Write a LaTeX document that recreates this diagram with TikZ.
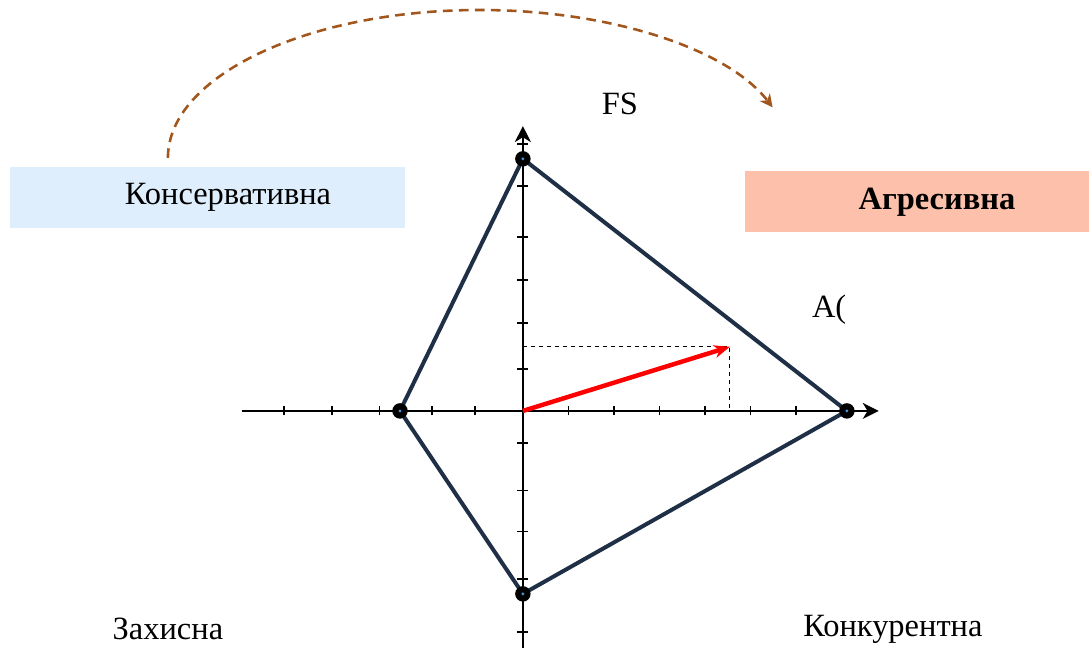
\documentclass[tikz,border=0pt]{standalone}
\usepackage{fontspec}
\setmainfont{Liberation Serif}
\usetikzlibrary{arrows.meta}

\definecolor{quadblue}{HTML}{1F2F45}
\definecolor{dotblue}{HTML}{4A90D9}
\definecolor{consblue}{HTML}{DFEEFC}
\definecolor{aggrsalmon}{HTML}{FDC0AA}
\definecolor{arcbrown}{HTML}{A0561C}

\tikzset{
  axis/.style={line width=1.3pt,-{Stealth[length=10pt,width=10pt,inset=3pt]}},
  tickmark/.style={line width=1.1pt},
  quad/.style={quadblue,line width=2.5pt,line join=round},
  vec/.style={red,line width=2.8pt,-{Stealth[length=10pt,width=8pt]}},
  guide/.style={line width=0.6pt,dash pattern=on 2.5pt off 2.5pt},
  arcline/.style={arcbrown,line width=1.6pt,dash pattern=on 6pt off 4pt,-{Stealth[length=8pt,width=8pt,inset=2.5pt]}},
  dot/.style={circle,fill=black,minimum size=0.34cm,inner sep=0pt,
    path picture={\fill[dotblue] (path picture bounding box.center) circle (0.035);}},
  lbl/.style={font=\fontsize{20.3}{24}\selectfont,inner sep=1pt},
}

\begin{document}
\begin{tikzpicture}

\useasboundingbox (-11.49,-5.21) rectangle (12.44,9.03);

% boxes
\node[fill=consblue,minimum width=8.68cm,minimum height=1.34cm,inner sep=0pt] (kons) at (-6.93,4.69) {};
\node[lbl] (konstext) at (-6.48,4.70) {Консервативна};
\node[fill=aggrsalmon,minimum width=7.56cm,minimum height=1.34cm,inner sep=0pt] (aggr) at (8.66,4.60) {};
\node[lbl] (aggrtext) at (9.10,4.59) {\textbf{Агресивна}};

% arc
\coordinate (arcstart) at (-7.8,5.56);
\draw[arcline] (arcstart) arc[start angle=180,end angle=20,x radius=6.85,y radius=3.25];

% axes
\coordinate (O) at (0,0);
\draw[axis] (-6.18,0) -- (7.82,0);
\draw[axis] (0,-5.21) -- (0,6.26);
\foreach \x in {-5.25,-4.2,-3.15,-2,-1.05,1,2,3,4,5,6}
  \draw[tickmark] (\x,-0.1) -- (\x,0.1);
\foreach \y in {-4.85,-3.7,-2.65,-1.75,-0.7,0.92,1.93,2.88,3.82,4.95,5.87}
  \draw[tickmark] (-0.12,\y) -- (0.12,\y);

% quadrilateral
\coordinate (top) at (0,5.54);
\coordinate (right) at (7.12,0);
\coordinate (bottom) at (0,-4.02);
\coordinate (left) at (-2.70,0);
\draw[quad] (top) -- (right) -- (bottom) -- (left) -- cycle;

% vector
\coordinate (A) at (4.55,1.41);
\draw[guide] (O |- A) -- (A) -- (A |- O);
\draw[vec] (O) -- (A);

\foreach \p in {top,right,bottom,left}
  \node[dot] (d-\p) at (\p) {};

% labels
\node[lbl] (fs) at (2.13,6.75) {FS};
\node[lbl] (alabel) at (6.73,2.22) {A(};
\node[lbl] (zakh) at (-7.80,-4.80) {Захисна};
\node[lbl] (konk) at (8.13,-4.80) {Конкурентна};

\end{tikzpicture}
\end{document}
